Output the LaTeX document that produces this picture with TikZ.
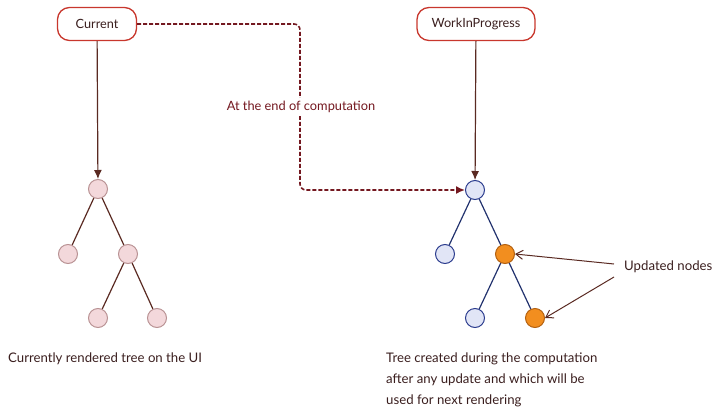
\documentclass[tikz,border=0pt]{standalone}
\usepackage{fontspec}
\setmainfont{Lato}
\usetikzlibrary{arrows.meta}
\definecolor{boxred}{HTML}{C8372D}
\definecolor{txtdark}{HTML}{3A1E1E}
\definecolor{linebrown}{HTML}{5A2A22}
\definecolor{dashred}{HTML}{741820}
\definecolor{pinkfill}{HTML}{F3D8DB}
\definecolor{pinkdraw}{HTML}{B99294}
\definecolor{bluefill}{HTML}{E1E5F6}
\definecolor{bluedraw}{HTML}{2B3C8E}
\definecolor{bluelink}{HTML}{22326E}
\definecolor{orfill}{HTML}{F28E1F}
\definecolor{ordraw}{HTML}{B3600F}
\tikzset{
  topbox/.style={draw=boxred, line width=1.3pt, rounded corners=12pt, minimum height=33pt, text=txtdark, font=\fontsize{12.7}{15}\selectfont, inner xsep=8pt},
  pnode/.style={circle, draw=pinkdraw, fill=pinkfill, line width=1pt, minimum size=19pt, inner sep=0pt},
  bnode/.style={circle, draw=bluedraw, fill=bluefill, line width=1pt, minimum size=19pt, inner sep=0pt},
  onode/.style={circle, draw=ordraw, fill=orfill, line width=1pt, minimum size=19pt, inner sep=0pt},
  plink/.style={draw=linebrown, line width=1.2pt},
  blink/.style={draw=bluelink, line width=1.2pt},
  tip/.style={-{Latex[length=9pt,width=8pt]}},
  note/.style={text=txtdark, font=\fontsize{13.2}{21}\selectfont, align=left},
}
\begin{document}
\begin{tikzpicture}[x=1pt,y=-1pt]
\useasboundingbox (0,0) rectangle (718,410);
\node[topbox, minimum width=79pt] (cur) at (97,24) {Current};
\node[topbox, minimum width=118pt] (wip) at (476,24) {WorkInProgress};
% left tree
\node[pnode] (l1) at (98,189) {};
\node[pnode] (l2) at (68,254) {};
\node[pnode] (l3) at (128,254) {};
\node[pnode] (l4) at (98,318) {};
\node[pnode] (l5) at (157,318) {};
\draw[plink] (l1) -- (l2);
\draw[plink] (l1) -- (l3);
\draw[plink] (l3) -- (l4);
\draw[plink] (l3) -- (l5);
\draw[plink, tip] (cur) -- (l1);
% right tree
\node[bnode] (r1) at (475,190) {};
\node[bnode] (r2) at (445,254) {};
\node[onode] (r3) at (505,254) {};
\node[bnode] (r4) at (475,318) {};
\node[onode] (r5) at (535,318) {};
\draw[blink] (r1) -- (r2);
\draw[blink] (r1) -- (r3);
\draw[blink] (r3) -- (r4);
\draw[blink] (r3) -- (r5);
\draw[plink, tip] (wip) -- (r1);
% dashed connector
\coordinate (c1) at (300,24);
\coordinate (c2) at (300,190);
\draw[draw=dashred, line width=1.6pt, dash pattern=on 4pt off 2pt, rounded corners=6pt, tip]
  (cur.east) -- (c1) -- (c2) -- (r1.west);
\node[fill=white, text=dashred, font=\fontsize{12.8}{15}\selectfont, inner sep=3pt] (lab) at (301,107) {At the end of computation};
% updated nodes
\node[note, anchor=west, inner sep=0pt] (upd) at (624,267) {Updated nodes};
\coordinate (u1) at (614,264);
\coordinate (u2) at (614,277);
\draw[draw=linebrown, line width=1pt, -{Straight Barb[length=7pt,width=9pt]}] (u1) -- (r3.east);
\draw[draw=linebrown, line width=1pt, -{Straight Barb[length=7pt,width=9pt]}] (u2) -- (r5.east);
% notes
\node[note, anchor=base west, inner sep=0pt] (n1) at (8,362) {Currently rendered tree on the UI};
\node[note, anchor=base west, inner sep=0pt] (n2) at (386,404) {Tree created during the computation\\after any update and which will be\\used for next rendering};
\end{tikzpicture}
\end{document}
